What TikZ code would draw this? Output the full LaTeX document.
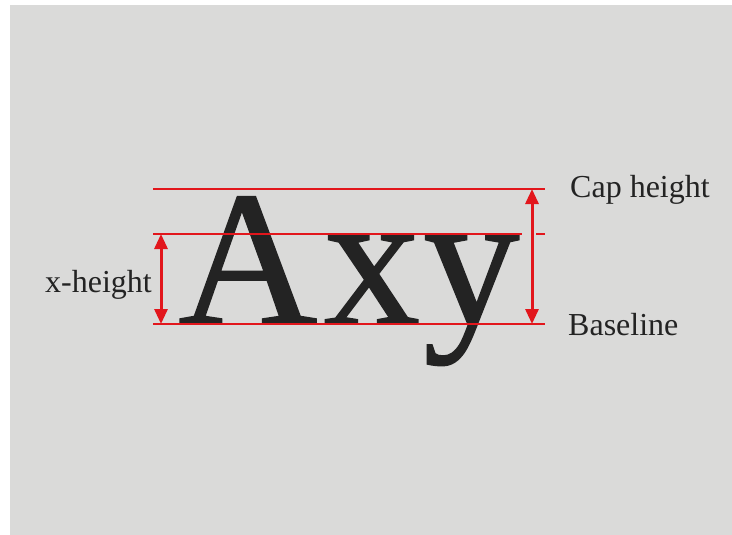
\documentclass[tikz,border=0pt]{standalone}
\usepackage{fontspec}
\setmainfont{Liberation Serif}
\newfontfamily\bigserif[FakeBold=0.8]{Liberation Serif}
\usetikzlibrary{arrows.meta}
\definecolor{bg}{HTML}{DADAD9}
\definecolor{rd}{HTML}{E2161C}
\definecolor{ink}{HTML}{232323}
\begin{document}
\begin{tikzpicture}[x=1pt,y=-1pt,
  guide/.style={draw=rd,line width=1.1pt},
  dim/.style={draw=rd,line width=3pt,{Triangle[width=13pt,length=15pt]}-{Triangle[width=13pt,length=15pt]}},
  big/.style={inner sep=0pt,anchor=base west,font=\bigserif\fontsize{193}{193}\selectfont,text=ink},
  lbl/.style={inner sep=0pt,anchor=base west,font=\fontsize{32}{32}\selectfont,text=ink}]
\fill[white] (0,0) rectangle (732,535);
\fill[bg] (10,5) rectangle (732,535);
\useasboundingbox (0,0) rectangle (732,535);
% big letters
\node[big] (lA) at (178,324) {A};
\node[big] (lx) at (323.5,324) {x};
\node[big] (ly) at (423,324) {y};
% guide lines
\coordinate (capL) at (153,189); \coordinate (capR) at (545,189);
\coordinate (xhL) at (153,234); \coordinate (xhM) at (522,234);
\coordinate (xhN) at (536,234); \coordinate (xhR) at (545,234);
\coordinate (bsL) at (153,324); \coordinate (bsR) at (545,324);
\draw[guide] (capL) -- (capR);
\draw[guide] (xhL) -- (xhM);
\draw[guide] (xhN) -- (xhR);
\draw[guide] (bsL) -- (bsR);
% dimension arrows
\coordinate (xa1) at (161,234); \coordinate (xa2) at (161,324);
\coordinate (ca1) at (532,189); \coordinate (ca2) at (532,324);
\draw[dim] (xa1) -- (xa2);
\draw[dim] (ca1) -- (ca2);
% labels
\node[lbl] (cap) at (570,197) {Cap height};
\node[lbl] (base) at (568,335) {Baseline};
\node[lbl] (xh) at (45,292) {x-height};
\end{tikzpicture}
\end{document}
